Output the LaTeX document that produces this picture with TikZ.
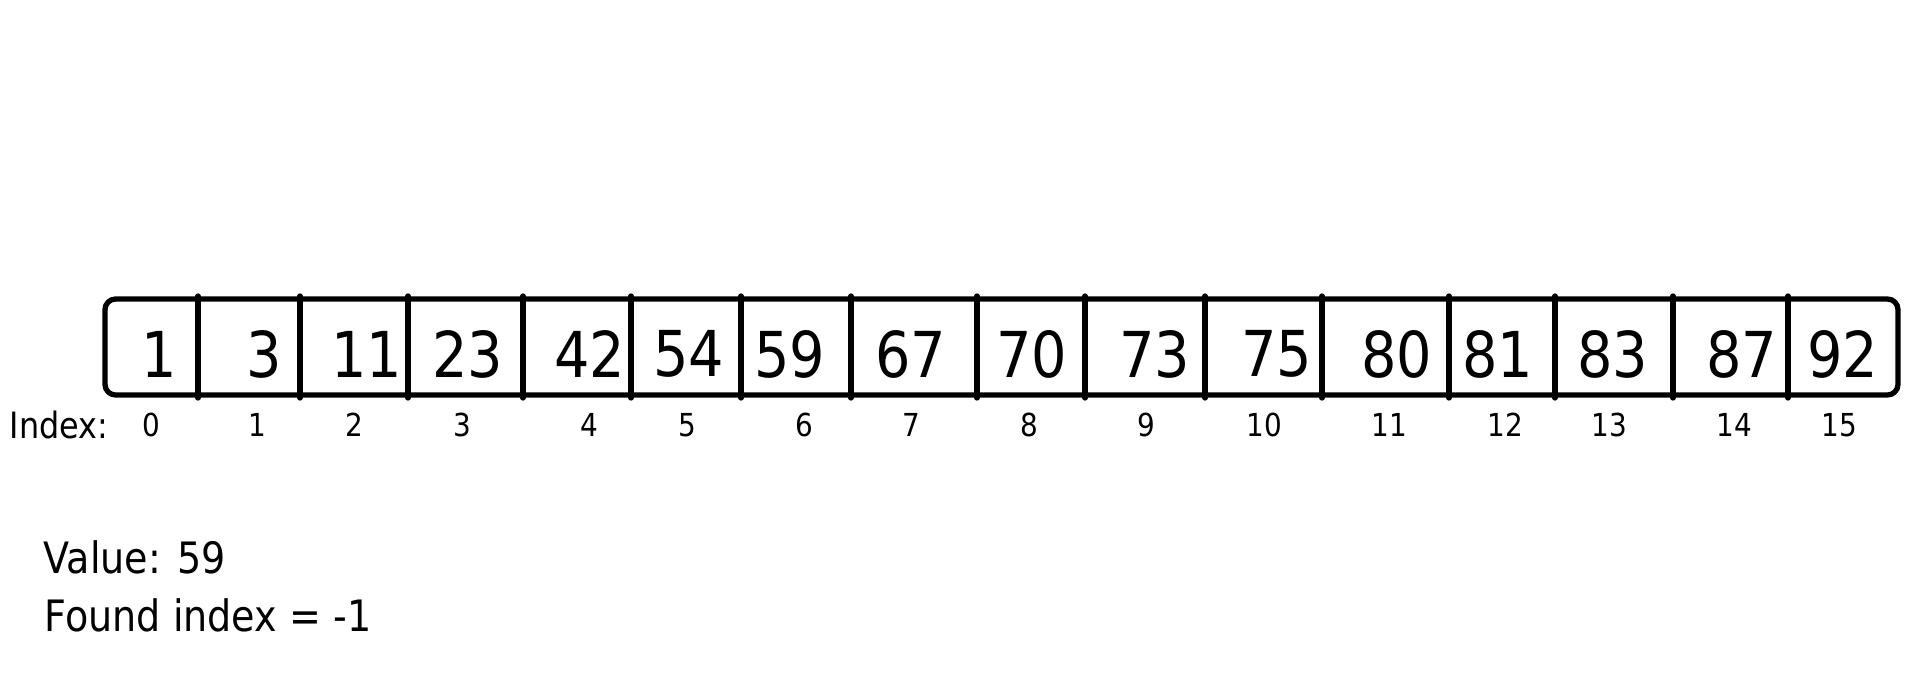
\documentclass[tikz,border=0pt]{standalone}
\usepackage{fontspec}
\setmainfont{DejaVu Sans}[FakeStretch=0.88]
\usetikzlibrary{positioning}

\begin{document}
\begin{tikzpicture}[x=0.01cm, y=-0.01cm,
    frame/.style  ={line width=1.5pt, line cap=round, line join=round},
    cellval/.style={font=\fontsize{18}{20}\selectfont, inner sep=0pt},
    idx/.style    ={font=\fontsize{9}{10}\selectfont, inner sep=0pt},
    info/.style   ={font=\fontsize{12.3}{14}\selectfont, anchor=west, inner sep=0pt}
]
\useasboundingbox[fill=white] (0,0) rectangle (1920,700);

% --- array frame ---
\draw[frame, rounded corners=3pt] (105,299) rectangle (1898,395);
\foreach \x in {198,300,408,523,631,741,851,977,1085,1205,1322,1449,1555,1673,1788}
  \draw[frame] (\x,296) -- (\x,398);

% --- cell values ---
\foreach \v/\x [count=\i from 0] in {1/159,3/264,11/367,23/468,42/590,54/689,59/790,67/911,
    70/1032,73/1155,75/1277,80/1397,81/1498,83/1613,87/1742,92/1843}
  \node[cellval] (v\i) at (\x,354) {\v};

% --- index row ---
\node[idx, anchor=west, font=\fontsize{10.3}{12}\selectfont] (idxlabel) at (9,425) {Index:};
\foreach \x [count=\i from 0] in {151,257,354,462,589,687,804,911,1029,1146,1264,1389,1505,1609,1734,1839}
  \node[idx] (i\i) at (\x,425) {\i};

% --- search state ---
\node[info] (value) at (43,557) {Value: 59};
\node[info] (found) at (44,615) {Found index = -1};

\end{tikzpicture}
\end{document}
